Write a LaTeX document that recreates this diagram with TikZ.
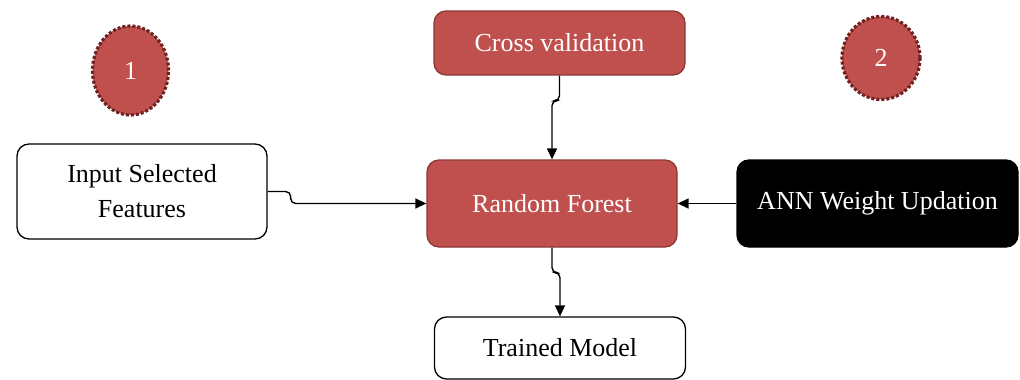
\documentclass[tikz,border=0pt]{standalone}
\usepackage{fontspec}
\setmainfont{Liberation Serif}
\usetikzlibrary{arrows.meta,shapes.geometric}
\definecolor{boxred}{HTML}{C0504D}
\definecolor{boxredline}{HTML}{8C3836}
\definecolor{dotred}{HTML}{6E2220}
\tikzset{
  blk/.style={rectangle, rounded corners=12pt, line width=1.3pt, align=center,
    font=\fontsize{26}{35}\selectfont, inner sep=0pt},
  whitebox/.style={blk, draw=black, fill=white, text=black},
  redbox/.style={blk, draw=boxredline, fill=boxred, text=white},
  darkbox/.style={blk, draw=black, fill=black, text=white},
  badge/.style={ellipse, fill=boxred, draw=dotred, line width=3.2pt,
    dash pattern=on 3pt off 2pt, text=white, inner sep=0pt,
    font=\fontsize{26}{30}\selectfont},
  conn/.style={line width=1.4pt, draw=black, rounded corners=5pt,
    -{Triangle[length=11pt,width=10pt]}}
}
\begin{document}
\begin{tikzpicture}[x=1pt,y=-1pt]
  \useasboundingbox (0,0) rectangle (1020,380);

  % numbered badges
  \node[badge, minimum width=76pt, minimum height=89pt] (b1) at (130.5,70.5) {1};
  \node[badge, minimum width=78pt, minimum height=83pt] (b2) at (881,58) {2};

  % process blocks
  \node[redbox, minimum width=251pt, minimum height=64pt] (cv) at (559.5,43) {Cross validation};
  \node[whitebox, minimum width=250pt, minimum height=95pt] (in) at (142,191.5) {Input Selected\\Features};
  \node[redbox, minimum width=250pt, minimum height=87pt] (rf) at (552,203.5) {Random Forest};
  \node[darkbox, minimum width=281pt, minimum height=87pt] (ann) at (877.5,203.5) {ANN Weight Updation};
  \node[whitebox, minimum width=251pt, minimum height=62pt] (tm) at (560,348) {Trained Model};

  % data flow
  \draw[conn] (cv.south) -- ++(0,25) -| (rf.north);
  \draw[conn] (in.east) -- ++(23,0) |- (rf.west);
  \draw[conn] (ann.west) -- (rf.east);
  \draw[conn] (rf.south) -- ++(0,25) -| (tm.north);
\end{tikzpicture}
\end{document}
